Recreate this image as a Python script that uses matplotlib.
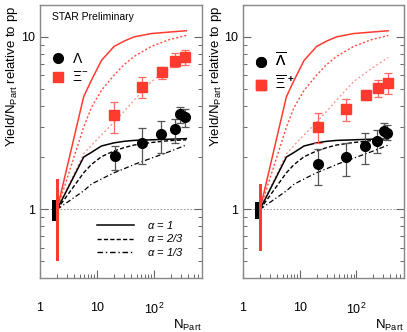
import matplotlib
matplotlib.use("Agg")
import matplotlib.pyplot as plt
from matplotlib.lines import Line2D
import numpy as np

plt.rcParams['font.family'] = ['Liberation Sans', 'DejaVu Sans']
plt.rcParams['mathtext.fontset'] = 'custom'
plt.rcParams['mathtext.rm'] = 'Liberation Sans'
plt.rcParams['mathtext.it'] = 'Liberation Sans:italic'

lam_npart = [21, 62, 136, 231, 286, 351]
lam_y = [2.05, 2.41, 2.72, 2.92, 3.55, 3.44]
lam_lo = [1.70, 1.82, 2.11, 2.44, 3.15, 3.01]
lam_hi = [2.32, 2.97, 3.26, 3.32, 3.93, 3.80]

xi_npart = [20, 62, 138, 231, 345]
xi_y = [3.52, 5.14, 6.23, 7.28, 7.62]
xi_lo = [2.76, 4.40, 5.68, 6.72, 6.87]
xi_hi = [4.21, 5.89, 6.72, 8.04, 8.40]

alam_npart = [21, 65, 144, 234, 307, 357]
alam_y = [1.84, 2.01, 2.32, 2.49, 2.85, 2.78]
alam_lo = [1.38, 1.56, 1.84, 2.11, 2.58, 2.52]
alam_hi = [2.25, 2.41, 2.76, 2.88, 3.15, 3.08]

axi_npart = [21, 65, 148, 241, 372]
axi_y = [2.99, 3.81, 4.60, 5.03, 5.42]
axi_lo = [2.41, 3.26, 4.30, 4.46, 4.66]
axi_hi = [3.60, 4.36, 4.92, 5.62, 6.15]

# pp normalisation uncertainty (low, high) at Npart = 2
pp_npart = 2
lam_pp = (0.855, 1.13)
xi_pp = (0.50, 1.49)
alam_pp = (0.88, 1.10)
axi_pp = (0.57, 1.41)

# canonical suppression model curves, alpha = 1, 2/3, 1/3
model_npart = [2, 5.85, 8, 12, 20, 30, 45, 90, 180, 370]
s1_a1 = [1, 2.01, 2.14, 2.33, 2.43, 2.48, 2.51, 2.53, 2.55, 2.57]
s1_a23 = [1, 1.63, 1.82, 2.02, 2.18, 2.28, 2.36, 2.44, 2.50, 2.53]
s1_a13 = [1, 1.28, 1.40, 1.50, 1.63, 1.72, 1.82, 1.98, 2.15, 2.36]
s2_a1 = [1, 4.5, 5.6, 7.3, 8.8, 9.45, 10.0, 10.45, 10.65, 10.85]
s2_a23 = [1, 3.0, 3.9, 4.9, 6.0, 6.9, 7.7, 8.8, 9.6, 10.2]
s2_a13 = [1, 2.1, 2.35, 2.7, 3.2, 3.7, 4.3, 5.5, 6.5, 7.6]

RED = '#ff3b30'
LS23 = (0, (3, 1.6))
LS13 = (0, (4, 2, 1, 2))


def panel(ax, s_x, s_y, s_lo, s_hi, x_x, x_y, x_lo, x_hi, s_pp, x_pp,
          s_lab, x_lab):
    ax.set_xscale('log')
    ax.set_yscale('log')
    ax.set_xlim(1, 700)
    ax.set_ylim(0.4, 15.3)

    ax.axhline(1, color='#888888', lw=0.6, ls=(0, (2, 2)), zorder=1)

    # model curves
    ax.plot(model_npart, s2_a1, color=RED, lw=1.1, zorder=2)
    ax.plot(model_npart, s2_a23, color=RED, lw=1.0, ls=(0, (1.5, 1.5)), alpha=0.9, zorder=2)
    ax.plot(model_npart, s2_a13, color=RED, lw=0.9, ls=(0, (1.5, 2)), alpha=0.6, zorder=2)
    ax.plot(model_npart, s1_a1, color='k', lw=1.1, zorder=2)
    ax.plot(model_npart, s1_a23, color='k', lw=1.0, ls=LS23, zorder=2)
    ax.plot(model_npart, s1_a13, color='k', lw=0.9, ls=LS13, zorder=2)

    # pp systematics
    ax.fill_between([pp_npart * 0.80, pp_npart * 0.98], s_pp[0], s_pp[1],
                    color='k', lw=0, zorder=3)
    ax.fill_between([pp_npart * 0.96, pp_npart * 1.09], x_pp[0], x_pp[1],
                    color=RED, lw=0, zorder=3)

    # data
    xy = np.array(x_y)
    ax.errorbar(x_x, xy, yerr=[xy - np.array(x_lo), np.array(x_hi) - xy],
                fmt='s', color=RED, ms=7, ecolor='#ff6a60', elinewidth=0.9,
                capsize=3, capthick=0.9, zorder=5)
    sy = np.array(s_y)
    ax.errorbar(s_x, sy, yerr=[sy - np.array(s_lo), np.array(s_hi) - sy],
                fmt='o', color='k', ms=7, ecolor='#555555', elinewidth=0.9,
                capsize=3, capthick=0.9, zorder=6)

    # species legend
    h = [Line2D([], [], ls='', marker='o', color='k', ms=7),
         Line2D([], [], ls='', marker='s', color=RED, ms=7)]
    leg = ax.legend(h, [s_lab, x_lab], loc='upper left',
                    bbox_to_anchor=(0.0, 0.865), frameon=False, fontsize=10,
                    handlelength=1.2, handletextpad=0.4, labelspacing=0.35,
                    borderpad=0.2)
    ax.add_artist(leg)

    # axes cosmetics
    ax.set_xticks([1, 10, 100])
    ax.set_xticklabels(['1', '10', '$10^2$'])
    ax.set_yticks([1, 10])
    ax.set_yticklabels(['1', '10'])
    ax.tick_params(which='both', direction='in', left=True, right=True,
                   top=False, bottom=True, colors='#666666',
                   labelcolor='k', labelsize=9)
    ax.tick_params(axis='x', which='both', pad=17)
    ax.tick_params(which='major', length=6, width=0.8)
    ax.tick_params(which='minor', length=3, width=0.7)
    for sp in ax.spines.values():
        sp.set_color('#888888')
        sp.set_linewidth(1.0)
    ax.set_xlabel(r'N$_{\mathrm{Part}}$', loc='right', fontsize=9.5, labelpad=1)
    ax.text(-0.17, 0.995, r'Yield/N$_{\mathrm{Part}}$ relative to pp',
            rotation=90, transform=ax.transAxes, ha='center', va='top',
            fontsize=9.5)


fig = plt.figure(figsize=(4.07, 3.32), dpi=100)
ax1 = fig.add_axes([40 / 407, 54 / 332, 162 / 407, 273 / 332])
ax2 = fig.add_axes([243 / 407, 54 / 332, 161 / 407, 273 / 332])

panel(ax1, lam_npart, lam_y, lam_lo, lam_hi, xi_npart, xi_y, xi_lo, xi_hi,
      lam_pp, xi_pp, r'$\Lambda$', r'$\Xi^{-}$')
panel(ax2, alam_npart, alam_y, alam_lo, alam_hi, axi_npart, axi_y, axi_lo,
      axi_hi, alam_pp, axi_pp, r'$\overline{\Lambda}$', r'$\overline{\Xi}^{\,+}$')

ax1.text(0.075, 0.955, 'STAR Preliminary', transform=ax1.transAxes,
         fontsize=7.5, va='center')

alpha_h = [Line2D([], [], color='k', lw=1.1),
           Line2D([], [], color='k', lw=1.0, ls=LS23),
           Line2D([], [], color='k', lw=1.0, ls=LS13)]
ax1.legend(alpha_h, [r'$\alpha$ = 1', r'$\alpha$ = 2/3', r'$\alpha$ = 1/3'],
           loc='center left', bbox_to_anchor=(0.29, 0.145), frameon=False,
           prop={'size': 8, 'style': 'italic'}, handlelength=3.3,
           handletextpad=1.2, labelspacing=0.15)

fig.savefig('out.png', dpi=100)
